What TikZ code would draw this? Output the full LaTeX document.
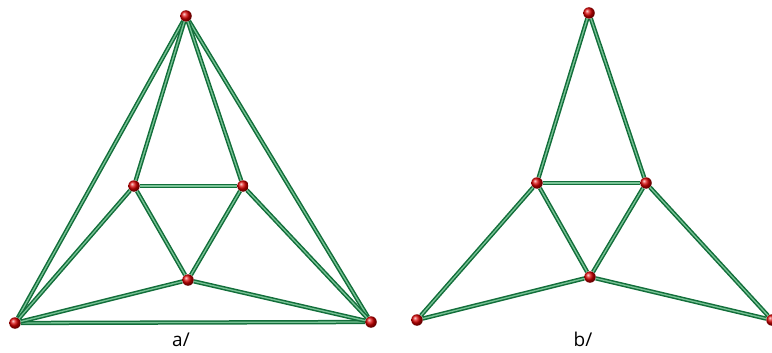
\documentclass[tikz,border=0pt]{standalone}
\usepackage{fontspec}
\setmainfont{Open Sans}
\definecolor{tubedark}{RGB}{18,110,58}
\definecolor{tubelite}{RGB}{120,195,150}
\tikzset{
  vtx/.style={circle, minimum size=11.5pt, inner sep=0pt, shading=ball, ball color=red!85!black},
  tube/.style={draw=tubedark, line width=1.5pt, double=tubelite, double distance=1.3pt},
  caption/.style={anchor=base, font=\fontsize{19}{22}\selectfont}
}
\begin{document}
\begin{tikzpicture}[x=1pt,y=-1pt]
    \useasboundingbox (0,0) rectangle (772,353);
    % Graph a
    \node[vtx] (aT) at (186,16) {};
    \node[vtx] (aL) at (15,323) {};
    \node[vtx] (aR) at (371,322) {};
    \node[vtx] (a1) at (134,186) {};
    \node[vtx] (a2) at (243,186) {};
    \node[vtx] (a3) at (188,280) {};

    % Graph b
    \node[vtx] (bT) at (589,13) {};
    \node[vtx] (bL) at (417,320) {};
    \node[vtx] (bR) at (772,320) {};
    \node[vtx] (b1) at (537,183) {};
    \node[vtx] (b2) at (646,183) {};
    \node[vtx] (b3) at (590,277) {};

    % Tubes
    \foreach \u/\v in {aT/aL, aT/aR, aL/aR, aT/a1, aT/a2, a1/a2, a2/a3, a3/a1,
                       aL/a1, aL/a3, aR/a2, aR/a3}
        \draw[tube] (\u) -- (\v);
    \foreach \u/\v in {bT/b1, bT/b2, b1/b2, b2/b3, b3/b1,
                       bL/b1, bL/b3, bR/b2, bR/b3}
        \draw[tube] (\u) -- (\v);

    % Captions
    \node[caption] (capA) at (181,346) {a/};
    \node[caption] (capB) at (583,346) {b/};
\end{tikzpicture}
\end{document}
